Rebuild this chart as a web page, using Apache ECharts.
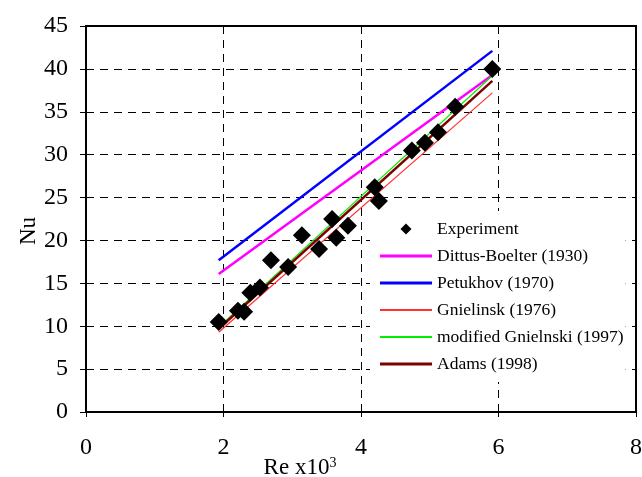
<!DOCTYPE html>
<html>
<head>
<meta charset="utf-8">
<script src="https://cdn.jsdelivr.net/npm/echarts@6/dist/echarts.min.js"></script>
<style>
  html, body { margin: 0; padding: 0; background: #fff; }
  #chart { width: 642px; height: 477px; }
</style>
</head>
<body>
<div id="chart"></div>
<script>
// Measured Nusselt numbers against Reynolds number (Re in thousands)
const expRe = [1.93, 2.21, 2.30, 2.39, 2.53, 2.69, 2.94, 3.14, 3.39, 3.58, 3.64, 3.81, 4.20, 4.26, 4.74, 4.93, 5.12, 5.37, 5.91];
const expNu = [10.5, 11.8, 11.7, 13.9, 14.5, 17.7, 16.9, 20.6, 19.0, 22.5, 20.3, 21.7, 26.2, 24.6, 30.5, 31.4, 32.6, 35.6, 40.0];

// Correlation curves, evaluated over the tested Re range
const corrRe = [1.93, 5.91];
const dittusNu = [16.1, 39.3];
const petukhovNu = [17.7, 42.1];
const gnielinskNu = [9.3, 37.2];
const modGnielinskiNu = [9.9, 39.2];
const adamsNu = [9.7, 38.6];

// Axis ticks
const xTicks = [0, 2, 4, 6, 8];
const yTicks = [0, 5, 10, 15, 20, 25, 30, 35, 40, 45];

const names = ['Experiment', 'Dittus-Boelter (1930)', 'Petukhov (1970)', 'Gnielinsk (1976)', 'modified Gnielnski (1997)', 'Adams (1998)'];

const pairs = (xs, ys) => xs.map((x, i) => [x, ys[i]]);
const serif = 'Liberation Serif';

// legend glyphs: a small diamond and flat bars of two thicknesses
const ICON_DIAMOND = 'path://M5,0L10,5L5,10L0,5Z';
const ICON_THICK = 'path://M0,0H52V3H0Z';
const ICON_THIN = 'path://M0,0H52V2H0Z';

function lineSeries(name, ys, color, width, z) {
  return {
    name, type: 'line', data: pairs(corrRe, ys),
    symbol: 'none', silent: true, z,
    lineStyle: { color, width },
    itemStyle: { color }
  };
}

const chart = echarts.init(document.getElementById('chart'), null, { renderer: 'canvas' });
chart.setOption({
  animation: false,
  backgroundColor: '#fff',
  textStyle: { fontFamily: serif, color: '#000' },
  grid: {
    left: 86, right: 6, top: 26, bottom: 65,
    outerBoundsMode: 'none',
    containLabel: false,
    show: true, borderColor: '#000', borderWidth: 2, backgroundColor: 'transparent'
  },
  legend: {
    orient: 'vertical',
    left: 370, top: 211,
    padding: [9, 2, 9, 10],
    backgroundColor: '#fff',
    itemWidth: 52, itemHeight: 11, itemGap: 9,
    symbolKeepAspect: true,
    textStyle: { fontFamily: serif, fontSize: 17.5, lineHeight: 18, color: '#000', padding: [0, 0, 0, 0] },
    data: [
      { name: names[0], icon: ICON_DIAMOND },
      { name: names[1], icon: ICON_THICK },
      { name: names[2], icon: ICON_THICK },
      { name: names[3], icon: ICON_THIN },
      { name: names[4], icon: ICON_THIN },
      { name: names[5], icon: ICON_THICK }
    ],
    z: 10
  },
  xAxis: {
    type: 'value', min: xTicks[0], max: xTicks[xTicks.length - 1], interval: 2,
    axisLine: { show: true, onZero: false, lineStyle: { color: '#000', width: 2 } },
    axisTick: { show: true, length: 5, lineStyle: { color: '#000' } },
    axisLabel: { fontFamily: serif, fontSize: 24, color: '#000', margin: 24 },
    splitLine: { show: true, lineStyle: { color: '#000', type: [8, 6], width: 1 } },
    name: 'Re x10{sup|3}',
    nameLocation: 'middle',
    nameGap: 44,
    nameMoveOverlap: false,
    nameTextStyle: {
      fontFamily: serif, fontSize: 23, color: '#000',
      padding: [0, 122, 0, 0],
      rich: { sup: { fontFamily: serif, fontSize: 14, color: '#000', verticalAlign: 'top', padding: [0, 0, 10, 0] } }
    }
  },
  yAxis: {
    type: 'value', min: yTicks[0], max: yTicks[yTicks.length - 1], interval: 5,
    axisLine: { show: true, onZero: false, lineStyle: { color: '#000', width: 2 } },
    axisTick: { show: true, length: 6, lineStyle: { color: '#000' } },
    axisLabel: { fontFamily: serif, fontSize: 24, color: '#000', margin: 18 },
    splitLine: { show: true, lineStyle: { color: '#000', type: [8, 6], width: 1 } },
    name: 'Nu',
    nameLocation: 'middle',
    nameGap: 46,
    nameMoveOverlap: false,
    nameTextStyle: { fontFamily: serif, fontSize: 23, color: '#000', padding: [0, 24, 0, 0] }
  },
  series: [
    {
      name: names[0], type: 'scatter', data: pairs(expRe, expNu),
      symbol: 'diamond', symbolSize: 18, z: 5, silent: true,
      itemStyle: { color: '#000', opacity: 1 }
    },
    lineSeries(names[1], dittusNu, '#ff00ff', 2.5, 3),
    lineSeries(names[2], petukhovNu, '#0000ff', 2.5, 3),
    lineSeries(names[3], gnielinskNu, '#ff3030', 1.2, 3),
    lineSeries(names[4], modGnielinskiNu, '#00ee00', 1.2, 3),
    lineSeries(names[5], adamsNu, '#800000', 2.5, 3)
  ]
});
</script>
</body>
</html>
